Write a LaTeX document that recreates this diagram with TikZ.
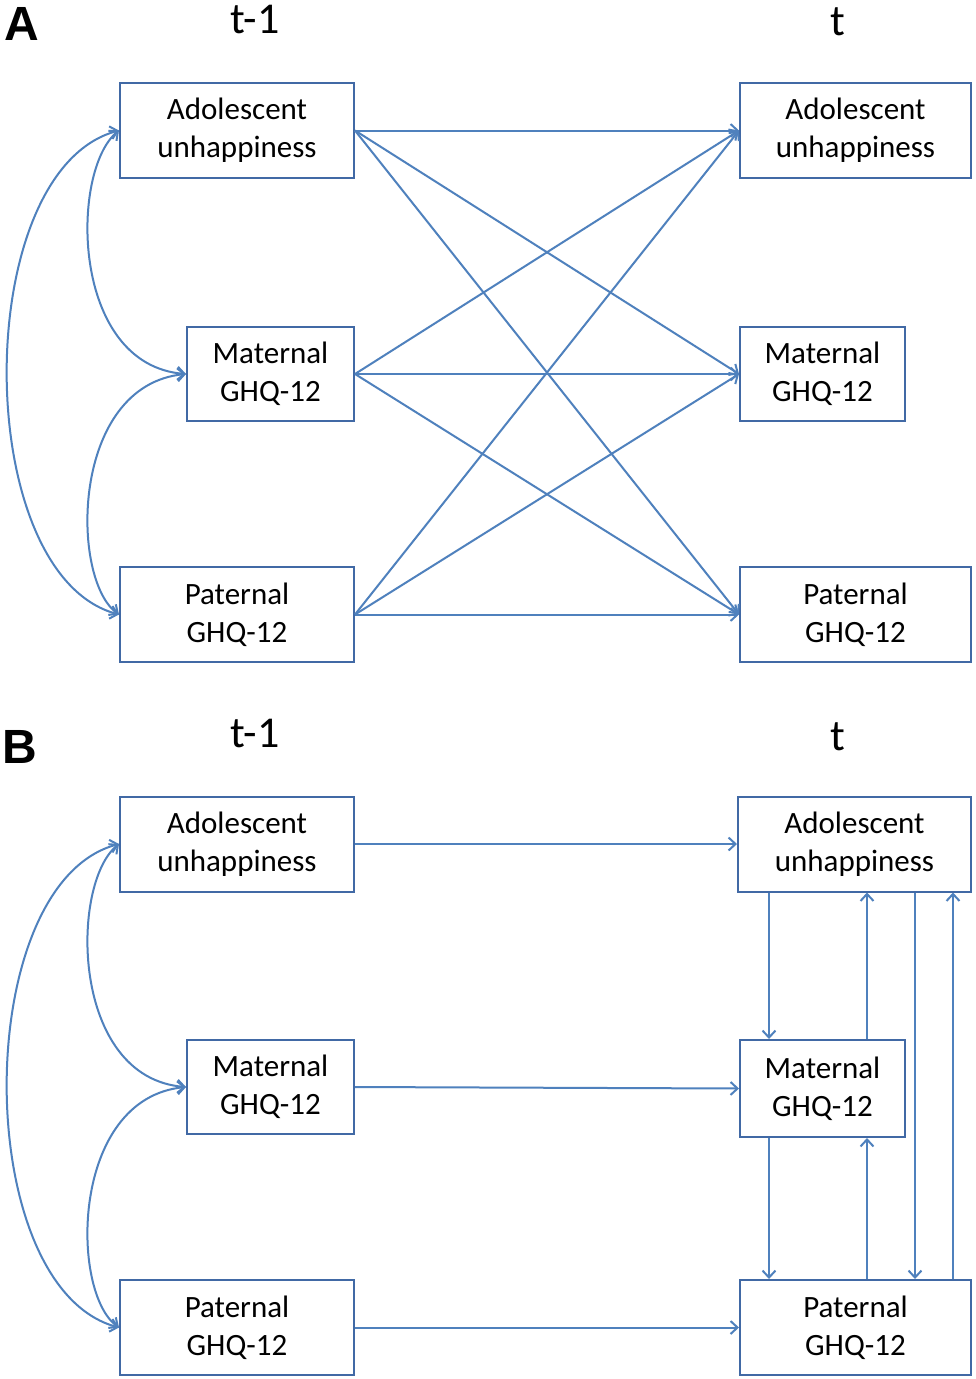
\documentclass[tikz,border=0pt]{standalone}
\usepackage{fontspec}
\setmainfont{Carlito}
\newfontfamily\labfont{Liberation Sans}
\usetikzlibrary{arrows.meta}
\definecolor{boxblue}{RGB}{65,105,165}
\definecolor{lineblue}{RGB}{79,129,189}
\tikzset{
  varbox/.style={draw=boxblue, line width=2pt, fill=white, align=center, inner sep=0pt,
    font=\fontsize{31}{38}\selectfont},
  arr/.style={draw=lineblue, line width=2pt, -{Straight Barb[length=7pt,width=13pt]}},
  barr/.style={draw=lineblue, line width=2pt, {Straight Barb[length=7pt,width=13pt]}-{Straight Barb[length=7pt,width=13pt]}},
  panel/.style={font=\labfont\bfseries\fontsize{48}{48}\selectfont},
  timelab/.style={anchor=base, font=\fontsize{44}{44}\selectfont}
}
\begin{document}
\begin{tikzpicture}[x=1pt,y=-1pt]
\useasboundingbox[fill=white] (0,0) rectangle (975,1379);
% ---------- Panel A ----------
\node[panel] (LA) at (22,24) {A};
\node[timelab] (TA1) at (255,33) {t-1};
\node[timelab] (TA2) at (838,35) {t};
\node[varbox, minimum width=234pt, minimum height=95pt] (A1) at (237,130.5) {Adolescent\\unhappiness};
\node[varbox, minimum width=167pt, minimum height=94pt] (M1) at (270.5,374) {Maternal\\GHQ-12};
\node[varbox, minimum width=234pt, minimum height=95pt] (P1) at (237,614.5) {Paternal\\GHQ-12};
\node[varbox, minimum width=231pt, minimum height=95pt] (A2) at (855.5,130.5) {Adolescent\\unhappiness};
\node[varbox, minimum width=165pt, minimum height=94pt] (M2) at (822.5,374) {Maternal\\GHQ-12};
\node[varbox, minimum width=231pt, minimum height=95pt] (P2) at (855.5,614.5) {Paternal\\GHQ-12};
\foreach \s in {A1,M1,P1}{
  \foreach \t in {A2,M2,P2}{
    \draw[arr] (\s.east) -- (\t.west);
  }
}
\draw[barr] (A1.west) .. controls (70,170) and (70,365) .. (M1.west);
\draw[barr] (M1.west) .. controls (70,385) and (70,580) .. (P1.west);
\draw[barr] (A1.west) .. controls (-30,170) and (-30,575) .. (P1.west);
% ---------- Panel B ----------
\node[panel] (LB) at (20,747) {B};
\node[timelab] (TB1) at (255,747) {t-1};
\node[timelab] (TB2) at (838,750) {t};
\node[varbox, minimum width=234pt, minimum height=95pt] (A1b) at (237,844) {Adolescent\\unhappiness};
\node[varbox, minimum width=167pt, minimum height=94pt] (M1b) at (270.5,1087) {Maternal\\GHQ-12};
\node[varbox, minimum width=234pt, minimum height=95pt] (P1b) at (237,1327.5) {Paternal\\GHQ-12};
\node[varbox, minimum width=233pt, minimum height=95pt] (A2b) at (854.5,844) {Adolescent\\unhappiness};
\node[varbox, minimum width=165pt, minimum height=97pt] (M2b) at (822.5,1088.5) {Maternal\\GHQ-12};
\node[varbox, minimum width=231pt, minimum height=95pt] (P2b) at (855.5,1327.5) {Paternal\\GHQ-12};
\draw[arr] (A1b.east) -- (A2b.west);
\draw[arr] (M1b.east) -- (M2b.west);
\draw[arr] (P1b.east) -- (P2b.west);
\draw[barr] (A1b.west) .. controls (70,883) and (70,1078) .. (M1b.west);
\draw[barr] (M1b.west) .. controls (70,1098) and (70,1293) .. (P1b.west);
\draw[barr] (A1b.west) .. controls (-30,883) and (-30,1288) .. (P1b.west);
\coordinate (xa) at (769,0);
\coordinate (xb) at (867,0);
\coordinate (xc) at (915,0);
\coordinate (xd) at (953,0);
\draw[arr] (xa |- A2b.south) -- (xa |- M2b.north);
\draw[arr] (xb |- M2b.north) -- (xb |- A2b.south);
\draw[arr] (xa |- M2b.south) -- (xa |- P2b.north);
\draw[arr] (xb |- P2b.north) -- (xb |- M2b.south);
\draw[arr] (xc |- A2b.south) -- (xc |- P2b.north);
\draw[arr] (xd |- P2b.north) -- (xd |- A2b.south);
\end{tikzpicture}
\end{document}
